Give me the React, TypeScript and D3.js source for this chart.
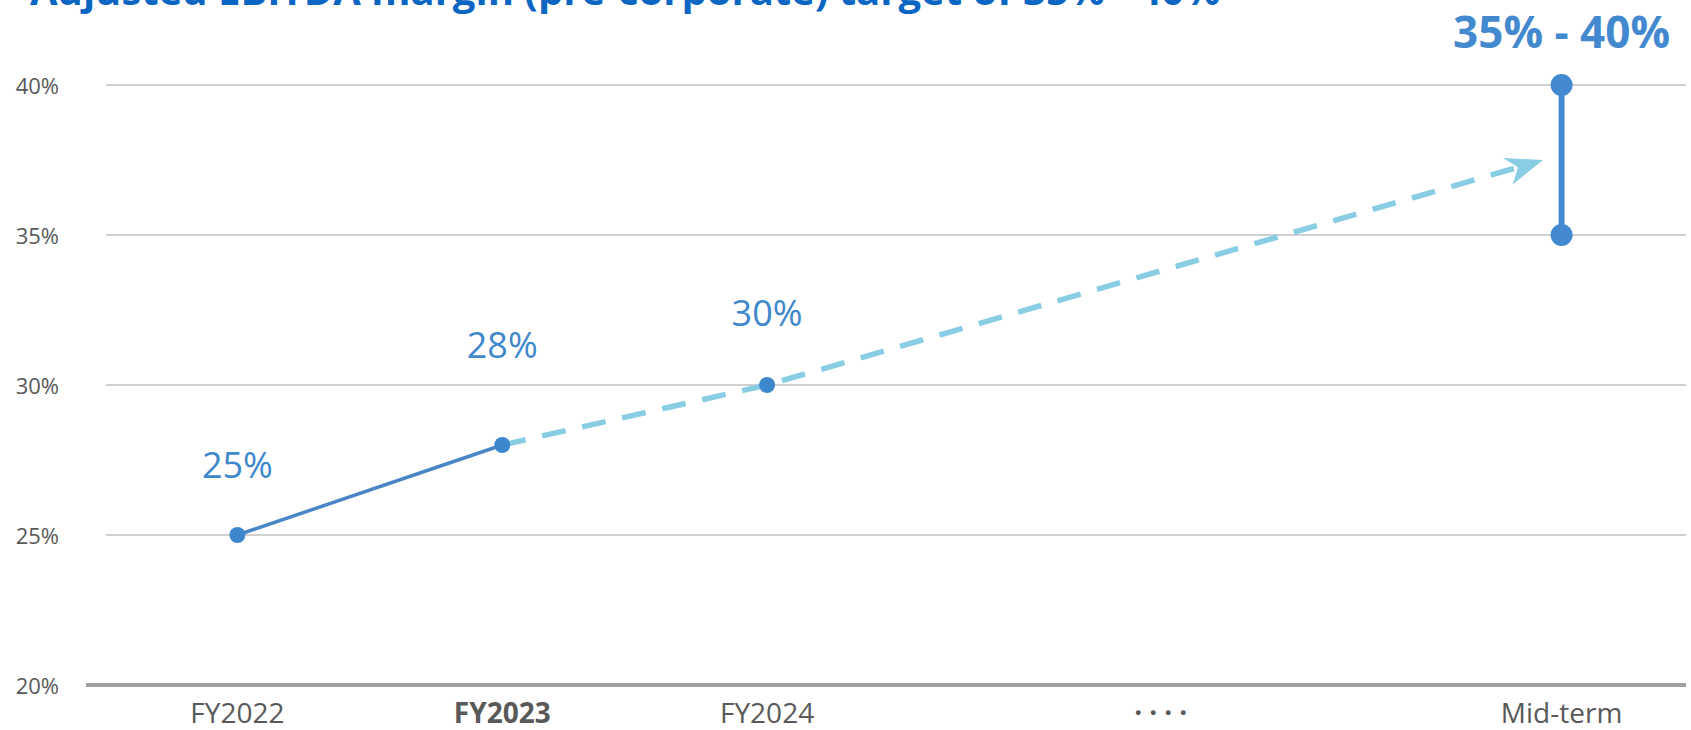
import React from "react";
import * as d3 from "d3";

const W = 1691;
const H = 730;

// ---- data ----
const slots = ["FY2022", "FY2023", "FY2024", "gapA", "gapB", "Mid-term"];
const tickLabels = ["FY2022", "FY2023", "FY2024", "", "", "Mid-term"];
const boldTick = ["FY2023"];
const ellipsisLabel = "····";
const yTicks = [20, 25, 30, 35, 40];

const actualCats = ["FY2022", "FY2023"];
const actualValues = [25, 28];

const forecastCats = ["FY2023", "FY2024"];
const forecastValues = [28, 30];
const arrowSlot = 4.93; // fractional slot index of arrow tip
const arrowValue = 37.5;

const labelCats = ["FY2022", "FY2023", "FY2024"];
const labelValues = [25, 28, 30];
const labelTexts = ["25%", "28%", "30%"];

const targetCat = "Mid-term";
const targetLow = 35;
const targetHigh = 40;
const targetText = "35% - 40%";

const titleText = "Adjusted EBITDA margin (pre-corporate) target of 35% - 40%";

// ---- styles ----
const labelOffsets = [57, 87, 59];
const FONT = "'Open Sans', 'DejaVu Sans', sans-serif";

export default function App() {
  const x = d3.scaleBand<string>().domain(slots).range([105, 1694]).padding(0);
  const bw = x.bandwidth();
  const cx = (c: string) => (x(c) as number) + bw / 2;
  const xi = (i: number) => (x(slots[0]) as number) + bw / 2 + i * x.step();
  const y = d3.scaleLinear().domain([20, 40]).range([685, 85]);

  const line = d3
    .line<[number, number]>()
    .x((d) => d[0])
    .y((d) => d[1]);

  const actualPts: [number, number][] = actualCats.map((c, i) => [cx(c), y(actualValues[i])]);
  const forecastPts: [number, number][] = forecastCats.map((c, i) => [cx(c), y(forecastValues[i])]);
  forecastPts.push([xi(arrowSlot), y(arrowValue)]);

  const tip = forecastPts[forecastPts.length - 1];
  const prev = forecastPts[forecastPts.length - 2];
  const ang = (Math.atan2(tip[1] - prev[1], tip[0] - prev[0]) * 180) / Math.PI;
  const dx = tip[0] - prev[0];
  const dy = tip[1] - prev[1];
  const len = Math.sqrt(dx * dx + dy * dy);
  const lineEnd: [number, number] = [tip[0] - (dx / len) * 20, tip[1] - (dy / len) * 20];
  const forecastDraw = [...forecastPts.slice(0, -1), lineEnd];

  const mx = cx(targetCat);
  const dotsX = (cx("gapA") + cx("gapB")) / 2;

  return (
    <svg
      width={W}
      height={H}
      style={{ position: "absolute", left: 0, top: 0, background: "#fff" }}
      fontFamily={FONT}
    >
      {/* title (cut off at top) */}
      <text x={30} y={5} fontSize={40} fontWeight={700} fill="#0a66c2">
        {titleText}
      </text>

      {/* gridlines */}
      {yTicks
        .filter((t) => t !== 20)
        .map((t) => (
          <line key={t} x1={106} x2={1686} y1={y(t)} y2={y(t)} stroke="#d0d0d0" strokeWidth={2} />
        ))}
      {/* axis */}
      <line x1={86} x2={1686} y1={y(20)} y2={y(20)} stroke="#a0a0a0" strokeWidth={4} />

      {/* y tick labels */}
      {yTicks.map((t) => (
        <text key={t} x={59} y={y(t) + 9} textAnchor="end" fontSize={22} fill="#595959">
          {t}%
        </text>
      ))}

      {/* x tick labels */}
      {slots.map((s, i) =>
        tickLabels[i] ? (
          <text
            key={s}
            x={cx(s)}
            y={723}
            textAnchor="middle"
            fontSize={28}
            fontWeight={boldTick.includes(tickLabels[i]) ? 700 : 400}
            fill="#595959"
          >
            {tickLabels[i]}
          </text>
        ) : null
      )}
      <text
        x={dotsX}
        y={723}
        textAnchor="middle"
        fontSize={28}
        fontWeight={700}
        fill="#595959"
        letterSpacing={7}
      >
        {ellipsisLabel}
      </text>

      {/* forecast dashed line */}
      <path
        d={line(forecastDraw) as string}
        fill="none"
        stroke="#89cde4"
        strokeWidth={5.5}
        strokeDasharray="24 17"
      />
      {/* arrowhead */}
      <path
        transform={`translate(${tip[0]},${tip[1]}) rotate(${ang})`}
        d="M0,0 L-38,-13 L-26,0 L-36,15 Z"
        fill="#89cde4"
      />

      {/* actual solid line */}
      <path d={line(actualPts) as string} fill="none" stroke="#4a86c5" strokeWidth={3.5} />

      {/* points */}
      {labelCats.map((c, i) => (
        <circle key={c} cx={cx(c)} cy={y(labelValues[i])} r={8} fill="#3d87cc" />
      ))}

      {/* data labels */}
      {labelCats.map((c, i) => (
        <text
          key={c}
          x={cx(c)}
          y={y(labelValues[i]) - labelOffsets[i]}
          textAnchor="middle"
          fontSize={36}
          fill="#3f88cc"
        >
          {labelTexts[i]}
        </text>
      ))}

      {/* target range */}
      <line x1={mx} x2={mx} y1={y(targetLow)} y2={y(targetHigh)} stroke="#4389cf" strokeWidth={6} />
      <circle cx={mx} cy={y(targetLow)} r={11} fill="#4389cf" />
      <circle cx={mx} cy={y(targetHigh)} r={11} fill="#4389cf" />
      <text x={mx} y={48} textAnchor="middle" fontSize={44} fontWeight={700} fill="#4389cf">
        {targetText}
      </text>
    </svg>
  );
}
